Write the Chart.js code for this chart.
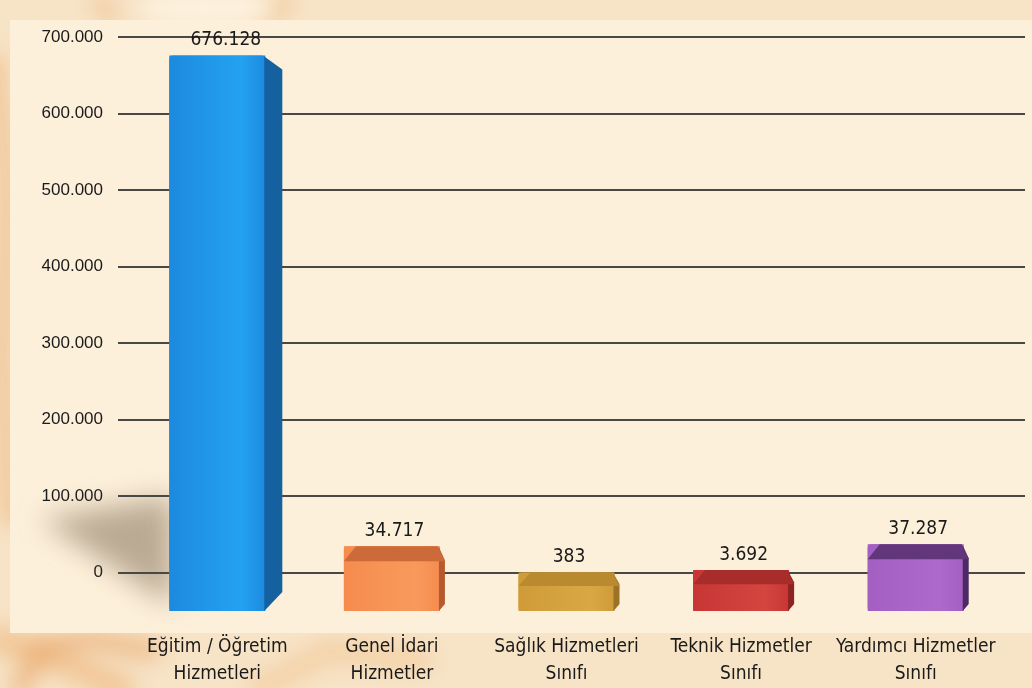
<!DOCTYPE html>
<html>
<head>
<meta charset="utf-8">
<script src="https://cdn.jsdelivr.net/npm/chart.js@4/dist/chart.umd.min.js"></script>
<style>
  html,body{margin:0;padding:0;background:#f6e2c4;}
  #wrap{width:1032px;height:688px;position:relative;}
  canvas{display:block;}
</style>
</head>
<body>
<div id="wrap"><canvas id="c" width="1032" height="688"></canvas></div>
<script>
// ---- data ----
const categories = [
  ["Eğitim / Öğretim", "Hizmetleri"],
  ["Genel İdari", "Hizmetler"],
  ["Sağlık Hizmetleri", "Sınıfı"],
  ["Teknik Hizmetler", "Sınıfı"],
  ["Yardımcı Hizmetler", "Sınıfı"]
];
const values = [676128, 34717, 383, 3692, 37287];
const valueLabels = ["676.128", "34.717", "383", "3.692", "37.287"];
const yTicks = [0, 100000, 200000, 300000, 400000, 500000, 600000, 700000];
const yTickLabels = ["0", "100.000", "200.000", "300.000", "400.000", "500.000", "600.000", "700.000"];

// ---- styles ----
const COND = "'Liberation Sans Narrow', 'DejaVu Sans Condensed', 'Roboto Condensed', 'Liberation Sans', sans-serif";
const frontColors = ['#1c8ade', '#f58c4e', '#cf9b38', '#c73634', '#a35fc2'];
const frontLight  = ['#24a2f2', '#f89a5c', '#d9a845', '#d44540', '#ad6acb'];
const topColors   = [null, '#cc6a3a', '#b98a2e', '#a82c2a', '#62367a'];
const sideColors  = ['#15609f', '#b55a2e', '#9c7226', '#8c2222', '#4d2a63'];
const DEPTH_BASE = -50000; // visual 3D depth below zero line

const bgPlugin = {
  id: 'bg',
  beforeDraw(chart) {
    const ctx = chart.ctx;
    ctx.save();
    ctx.fillStyle = '#f7e3c6';
    ctx.fillRect(0, 0, 1032, 688);
    ctx.filter = 'blur(10px)';
    const strokes = [
      {c: 'rgba(236,176,118,0.75)', w: 14, p: [[-5, 60], [8, 200], [2, 360], [10, 520]]},
      {c: 'rgba(240,190,135,0.7)', w: 30, p: [[0, 640], [60, 660], [120, 688]]},
      {c: 'rgba(232,165,105,0.6)', w: 20, p: [[20, 688], [40, 650], [90, 640], [150, 650]]},
      {c: 'rgba(242,200,150,0.6)', w: 24, p: [[260, 688], [330, 650], [420, 660]]},
      {c: 'rgba(238,185,130,0.5)', w: 18, p: [[100, 0], [110, 18]]},
      {c: 'rgba(238,185,130,0.5)', w: 18, p: [[285, 0], [270, 18]]}
    ];
    strokes.forEach(s => {
      ctx.strokeStyle = s.c; ctx.lineWidth = s.w; ctx.lineCap = 'round';
      ctx.beginPath();
      ctx.moveTo(s.p[0][0], s.p[0][1]);
      for (let i = 1; i < s.p.length; i++) ctx.lineTo(s.p[i][0], s.p[i][1]);
      ctx.stroke();
    });
    ctx.fillStyle = 'rgba(255,246,230,0.8)';
    ctx.beginPath(); ctx.ellipse(205, 8, 70, 16, 0, 0, Math.PI * 2); ctx.fill();
    ctx.filter = 'none';
    ctx.fillStyle = '#fdf0da';
    ctx.fillRect(10, 20, 1022, 613);
    ctx.restore();
  },
  beforeDatasetsDraw(chart) {
    const ctx = chart.ctx;
    const ys = chart.scales.y;
    ctx.save();
    // soft shadow of tallest bar
    const b0 = chart.getDatasetMeta(0).data[0];
    const left0 = b0.x - b0.width / 2;
    ctx.filter = 'blur(14px)';
    ctx.fillStyle = 'rgba(120,100,78,0.5)';
    ctx.beginPath();
    ctx.moveTo(left0 + 4, ys.getPixelForValue(100000));
    ctx.lineTo(40, ys.getPixelForValue(70000));
    ctx.lineTo(left0 + 4, b0.base - 5);
    ctx.closePath();
    ctx.fill();
    ctx.filter = 'none';
    // gridlines
    ctx.strokeStyle = '#4a4844';
    ctx.lineWidth = 2;
    yTicks.forEach(v => {
      const y = Math.round(ys.getPixelForValue(v));
      ctx.beginPath();
      ctx.moveTo(118, y);
      ctx.lineTo(1025, y);
      ctx.stroke();
    });
    ctx.restore();
  },
  afterDatasetsDraw(chart) {
    const ctx = chart.ctx;
    const meta = chart.getDatasetMeta(0);
    ctx.save();
    meta.data.forEach((bar, i) => {
      const w = bar.width;
      const l = bar.x - w / 2, r = bar.x + w / 2;
      const top = bar.y, bot = bar.base;
      const h = bot - top;
      const g = ctx.createLinearGradient(l, 0, r, 0);
      g.addColorStop(0, frontColors[i]);
      g.addColorStop(0.75, frontLight[i]);
      g.addColorStop(1, frontColors[i]);
      ctx.fillStyle = g;
      ctx.beginPath();
      ctx.roundRect(l, top, w, h, 4);
      ctx.fill();
      const d = i === 0 ? 17 : 5;
      ctx.fillStyle = sideColors[i];
      ctx.beginPath();
      ctx.moveTo(r - 1, top + 1);
      ctx.lineTo(r + d, top + Math.min(14, h * 0.3));
      ctx.lineTo(r + d, bot - d - 2);
      ctx.lineTo(r - 1, bot);
      ctx.closePath();
      ctx.fill();
      if (topColors[i]) {
        const td = Math.min(15, h * 0.35);
        ctx.fillStyle = topColors[i];
        ctx.beginPath();
        ctx.moveTo(l + 12, top);
        ctx.lineTo(r - 2, top);
        ctx.lineTo(r + d, top + td);
        ctx.lineTo(l, top + td);
        ctx.closePath();
        ctx.fill();
      }
      ctx.fillStyle = '#1a1a1a';
      ctx.font = '19px ' + COND;
      ctx.textAlign = 'center';
      ctx.textBaseline = 'middle';
      ctx.fillText(valueLabels[i], bar.x + d / 2, top - 15);
    });
    ctx.restore();
  }
};

new Chart(document.getElementById('c'), {
  type: 'bar',
  data: {
    labels: categories,
    datasets: [{
      data: values,
      base: DEPTH_BASE,
      backgroundColor: frontColors,
      borderWidth: 0,
      barPercentage: 0.55,
      categoryPercentage: 1,
      clip: false
    }]
  },
  options: {
    responsive: false,
    animation: false,
    events: [],
    layout: { padding: { top: 36, right: 29, left: 0, bottom: 0 } },
    plugins: { legend: { display: false }, tooltip: { enabled: false } },
    scales: {
      x: {
        grid: { display: false, drawTicks: false },
        border: { display: false },
        ticks: {
          font: { family: COND, size: 19, lineHeight: 1.4 },
          color: '#1a1a1a',
          padding: 23,
          maxRotation: 0,
          autoSkip: false
        },
        afterFit(s) { s.height = 77; }
      },
      y: {
        min: DEPTH_BASE,
        max: 700000,
        afterBuildTicks(s) { s.ticks = yTicks.map(v => ({ value: v })); },
        grid: { display: false, drawTicks: false },
        border: { display: false },
        ticks: {
          font: { family: "'Liberation Sans', Arial, sans-serif", size: 17 },
          color: '#1a1a1a',
          padding: 27,
          callback: (v) => yTickLabels[yTicks.indexOf(v)]
        },
        afterFit(s) { s.width = 130; }
      }
    }
  },
  plugins: [bgPlugin]
});
</script>
</body>
</html>
